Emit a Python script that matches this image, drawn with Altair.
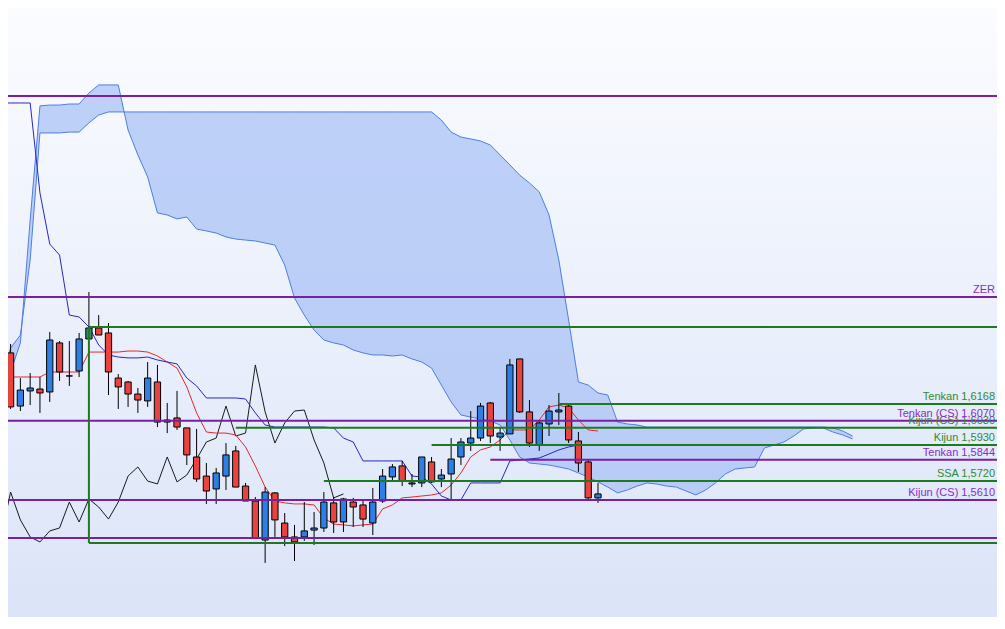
import altair as alt
import pandas as pd

# ---- candles (bar index 0..61) ----
opens = [1.6517, 1.6465, 1.6156, 1.6244, 1.6255, 1.6238, 1.6523, 1.6331, 1.6360, 1.6546,
         1.6610, 1.6581, 1.6319, 1.6296, 1.6226, 1.6186, 1.6296, 1.6075, 1.6087, 1.6029,
         1.5860, 1.5749, 1.5674, 1.5749, 1.5895, 1.5691, 1.5604, 1.5377, 1.5651, 1.5476,
         1.5395, 1.5395, 1.5435, 1.5447, 1.5593, 1.5482, 1.5598, 1.5581, 1.5476, 1.5604,
         1.5744, 1.5808, 1.5709, 1.5709, 1.5831, 1.5732, 1.5761, 1.5860, 1.5941, 1.5970,
         1.6174, 1.5976, 1.5994, 1.6430, 1.6122, 1.5930, 1.6052, 1.6122, 1.6156, 1.5953,
         1.5831, 1.5622]
highs = [1.6552, 1.6517, 1.6319, 1.6348, 1.6325, 1.6587, 1.6534, 1.6534, 1.6581, 1.6819,
         1.6685, 1.6639, 1.6342, 1.6302, 1.6261, 1.6412, 1.6395, 1.6174, 1.6244, 1.6029,
         1.6023, 1.5825, 1.5796, 1.5941, 1.5924, 1.5709, 1.5627, 1.5685, 1.5656, 1.5534,
         1.5465, 1.5598, 1.5540, 1.5656, 1.5627, 1.5622, 1.5622, 1.5610, 1.5680, 1.5790,
         1.5819, 1.5837, 1.5761, 1.5860, 1.5860, 1.5790, 1.5970, 1.5970, 1.6127, 1.6174,
         1.6180, 1.6029, 1.6430, 1.6430, 1.6191, 1.6075, 1.6162, 1.6232, 1.6168, 1.6005,
         1.5848, 1.5709]
lows = [1.6424, 1.6139, 1.6127, 1.6162, 1.6116, 1.6180, 1.6302, 1.6273, 1.6325, 1.6546,
        1.6569, 1.6220, 1.6139, 1.6151, 1.6116, 1.6151, 1.6034, 1.5999, 1.6017, 1.5813,
        1.5715, 1.5587, 1.5587, 1.5668, 1.5685, 1.5604, 1.5389, 1.5244, 1.5395, 1.5342,
        1.5255, 1.5372, 1.5348, 1.5424, 1.5418, 1.5424, 1.5453, 1.5453, 1.5406, 1.5593,
        1.5715, 1.5691, 1.5685, 1.5685, 1.5709, 1.5685, 1.5610, 1.5813, 1.5895, 1.5953,
        1.5941, 1.5895, 1.5994, 1.6116, 1.5918, 1.5895, 1.5982, 1.6046, 1.5941, 1.5773,
        1.5610, 1.5593]
closes = [1.6470, 1.6151, 1.6249, 1.6261, 1.6232, 1.6540, 1.6354, 1.6331, 1.6546, 1.6610,
          1.6569, 1.6354, 1.6267, 1.6226, 1.6191, 1.6319, 1.6063, 1.6063, 1.6034, 1.5872,
          1.5732, 1.5662, 1.5767, 1.5872, 1.5685, 1.5604, 1.5389, 1.5656, 1.5494, 1.5395,
          1.5366, 1.5430, 1.5447, 1.5598, 1.5482, 1.5616, 1.5569, 1.5499, 1.5598, 1.5749,
          1.5802, 1.5720, 1.5703, 1.5860, 1.5715, 1.5755, 1.5848, 1.5947, 1.5970, 1.6156,
          1.5982, 1.5999, 1.6395, 1.6122, 1.5941, 1.6058, 1.6127, 1.6133, 1.5959, 1.5825,
          1.5622, 1.5645]
highlight_bar = 9

# ---- Ichimoku lines ----
tenkan = [1.6325, 1.6325, 1.6325, 1.6325, 1.6325, 1.6354, 1.6354, 1.6354, 1.6354, 1.6470,
          1.6470, 1.6470, 1.6470, 1.6476, 1.6476, 1.6470, 1.6447, 1.6412, 1.6377, 1.6267,
          1.6116, 1.6005, 1.5999, 1.5999, 1.5988, 1.5918, 1.5808, 1.5685, 1.5604, 1.5593,
          1.5587, 1.5587, 1.5581, 1.5505, 1.5470, 1.5465, 1.5459, 1.5465, 1.5470, 1.5558,
          1.5581, 1.5622, 1.5627, 1.5633, 1.5639, 1.5651, 1.5697, 1.5767, 1.5860, 1.5901,
          1.5918, 1.5959, 1.6017, 1.6017, 1.6017, 1.6075, 1.6151, 1.6162, 1.6145, 1.6075,
          1.6017, 1.6011]
kijun = [1.7918, 1.7918, 1.7918, 1.7918, 1.7395, 1.7098, 1.7034, 1.6685, 1.6674, 1.6616,
         1.6511, 1.6453, 1.6441, 1.6436, 1.6436, 1.6441, 1.6424, 1.6412, 1.6401, 1.6319,
         1.6273, 1.6203, 1.6203, 1.6203, 1.6203, 1.6197, 1.6116, 1.6046, 1.6034, 1.6034,
         1.6034, 1.6034, 1.6034, 1.6034, 1.6029, 1.5970, 1.5947, 1.5837, 1.5837, 1.5837,
         1.5837, 1.5837, 1.5749, 1.5744, 1.5703, 1.5633, 1.5610, 1.5610, 1.5709, 1.5709,
         1.5709, 1.5709, 1.5837, 1.5842, 1.5848, 1.5854, 1.5877, 1.5901, 1.5918, 1.5930,
         1.5930, 1.5930]
chikou_shift = 26
# cloud, bar index 0..87 (26 bars ahead)
ssa = [1.6232, 1.6354, 1.6523, 1.7238, 1.7901, 1.7906, 1.7906, 1.7912, 1.7912, 1.7976,
       1.8023, 1.8023, 1.8023, 1.7761, 1.7616, 1.7488, 1.7279, 1.7267, 1.7244, 1.7255,
       1.7185, 1.7174, 1.7162, 1.7139, 1.7127, 1.7121, 1.7116, 1.7104, 1.7092, 1.6976,
       1.6784, 1.6685, 1.6598, 1.6540, 1.6523, 1.6511, 1.6482, 1.6465, 1.6453, 1.6453,
       1.6447, 1.6453, 1.6430, 1.6412, 1.6377, 1.6278, 1.6180, 1.6104, 1.6092, 1.6081,
       1.6069, 1.6046, 1.5959, 1.5860, 1.5825, 1.5819, 1.5813, 1.5802, 1.5790, 1.5767,
       1.5744, 1.5715, 1.5685, 1.5651, 1.5668, 1.5691, 1.5709, 1.5703, 1.5691, 1.5685,
       1.5662, 1.5639, 1.5668, 1.5709, 1.5761, 1.5790, 1.5796, 1.5802, 1.5912, 1.5930,
       1.5947, 1.5982, 1.6023, 1.6029, 1.6029, 1.6005, 1.5988, 1.5965]
ssb = [1.6308, 1.6494, 1.6569, 1.7005, 1.7744, 1.7744, 1.7744, 1.7749, 1.7749, 1.7802,
       1.7848, 1.7866, 1.7866, 1.7866, 1.7866, 1.7866, 1.7866, 1.7866, 1.7866, 1.7866,
       1.7866, 1.7866, 1.7866, 1.7866, 1.7866, 1.7866, 1.7866, 1.7866, 1.7866, 1.7866,
       1.7866, 1.7866, 1.7866, 1.7866, 1.7866, 1.7866, 1.7866, 1.7866, 1.7866, 1.7866,
       1.7866, 1.7866, 1.7866, 1.7866, 1.7866, 1.7819, 1.7749, 1.7720, 1.7709, 1.7697,
       1.7674, 1.7616, 1.7558, 1.7499, 1.7453, 1.7401, 1.7267, 1.7005, 1.6656, 1.6296,
       1.6278, 1.6232, 1.6220, 1.6063, 1.6052, 1.6046, 1.6034, 1.6034, 1.6034, 1.6034,
       1.6034, 1.6034, 1.6034, 1.6034, 1.6034, 1.6034, 1.6034, 1.6034, 1.6034, 1.6034,
       1.6034, 1.6034, 1.6034, 1.6034, 1.6034, 1.6029, 1.6011, 1.5982]

# ---- horizontal levels ----
level_price = [1.7959, 1.6790, 1.6070, 1.5844, 1.5610, 1.5389,
               1.6616, 1.6168, 1.6030, 1.5930, 1.5720, 1.5360]
level_start = [0, 0, 0, 50, 0, 0, 9, 57, 24, 44, 33, 9]
level_kind = ["purple"] * 6 + ["green"] * 6
box_bar = 9
box_top, box_bottom = 1.6616, 1.5360

label_text = ["ZER", "Tenkan 1,6168", "Kijun (CS) 1,6030", "Tenkan (CS) 1,6070",
              "Kijun 1,5930", "Tenkan 1,5844", "SSA 1,5720", "Kijun (CS) 1,5610"]
label_price = [1.6790, 1.6168, 1.6030, 1.6070, 1.5930, 1.5844, 1.5720, 1.5610]
label_kind = ["purple", "green", "green", "purple", "green", "purple", "green", "purple"]

# ---- styling ----
W, H = 989, 609
RED, BLUE, TEAL = "#e8433f", "#2d7fe3", "#2f8c7c"
LINE_COL = {"purple": "#7b1fa2", "green": "#1e7a1e"}
TEXT_COL = {"purple": "#8a2bc8", "green": "#2f8a2f"}

xs = alt.Scale(domain=[0.7354, 101.757], nice=False, zero=False)
ys = alt.Scale(domain=[1.49296, 1.84703], nice=False, zero=False)
X = lambda f: alt.X(f, scale=xs, axis=None)
Y = lambda f: alt.Y(f, scale=ys, axis=None)

n = len(opens)
bars = pd.DataFrame({"i": list(range(n)), "open": opens, "high": highs,
                     "low": lows, "close": closes})
def colour(r):
    if r.i == highlight_bar:
        return TEAL
    if r.close > r.open:
        return BLUE
    if r.close < r.open:
        return RED
    return "black"
bars["fill"] = bars.apply(colour, axis=1)

ind = pd.DataFrame({"i": list(range(n)), "tenkan": tenkan, "kijun": kijun})
chik = pd.DataFrame({"i": list(range(n - chikou_shift)), "v": closes[chikou_shift:]})
cloud = pd.DataFrame({"i": list(range(len(ssa))), "ssa": ssa, "ssb": ssb})
levels = pd.DataFrame({"p": level_price, "s": level_start,
                       "c": [LINE_COL[k] for k in level_kind]})
labels = pd.DataFrame({"t": label_text, "p": label_price,
                       "c": [TEXT_COL[k] for k in label_kind]})

grad = alt.LinearGradient(gradient="linear",
                          stops=[alt.GradientStop(offset=0, color="#fbfcff"),
                                 alt.GradientStop(offset=1, color="#dbe4f8")],
                          x1=0, x2=0, y1=0, y2=1)
bg = alt.Chart(pd.DataFrame({"a": [0]})).mark_rect(color=grad).encode(
    x=alt.value(0), x2=alt.value(W), y=alt.value(0), y2=alt.value(H))

area = alt.Chart(cloud).mark_area(color="#a8c1f5", opacity=0.72, clip=True).encode(
    x=X("i:Q"), y=Y("ssa:Q"), y2="ssb:Q")
ssa_l = alt.Chart(cloud).mark_line(color="#4d7ee0", strokeWidth=1, clip=True).encode(
    x=X("i:Q"), y=Y("ssa:Q"))
ssb_l = alt.Chart(cloud).mark_line(color="#4d7ee0", strokeWidth=1, clip=True).encode(
    x=X("i:Q"), y=Y("ssb:Q"))
chik_l = alt.Chart(chik).mark_line(color="#1a1a1a", strokeWidth=1, clip=True).encode(
    x=X("i:Q"), y=Y("v:Q"))
ten_l = alt.Chart(ind).mark_line(color="#e8262b", strokeWidth=1, clip=True).encode(
    x=X("i:Q"), y=Y("tenkan:Q"))
kij_l = alt.Chart(ind).mark_line(color="#2727c4", strokeWidth=1, clip=True).encode(
    x=X("i:Q"), y=Y("kijun:Q"))

wicks = alt.Chart(bars).mark_rule(color="black", strokeWidth=1, clip=True).encode(
    x=X("i:Q"), y=Y("low:Q"), y2="high:Q")
bodies = alt.Chart(bars).transform_calculate(
    x1="datum.i - 0.32", x2="datum.i + 0.32").mark_rect(
    stroke="black", strokeWidth=1, clip=True).encode(
    x=X("x1:Q"), x2="x2:Q", y=Y("open:Q"), y2="close:Q",
    fill=alt.Fill("fill:N", scale=None))

lv = alt.Chart(levels).mark_rule(strokeWidth=2, clip=True).encode(
    x=X("s:Q"), x2=alt.value(W), y=Y("p:Q"), color=alt.Color("c:N", scale=None))
vline = alt.Chart(pd.DataFrame({"i": [box_bar], "a": [box_top], "b": [box_bottom]})).mark_rule(
    strokeWidth=2, color=LINE_COL["green"], clip=True).encode(
    x=X("i:Q"), y=Y("a:Q"), y2="b:Q")

txt = alt.Chart(labels).mark_text(align="right", baseline="alphabetic", dy=-4,
                                  font="Liberation Sans", fontSize=11).encode(
    x=alt.value(W - 2), y=Y("p:Q"), text="t:N", color=alt.Color("c:N", scale=None))

chart = alt.layer(bg, area, ssa_l, ssb_l, chik_l, ten_l, kij_l, wicks, bodies,
                  lv, vline, txt).properties(
    width=W, height=H, padding=0, autosize=alt.AutoSizeParams(type="none")
).configure_view(strokeWidth=0)

chart.save("out.html", embed_options={"renderer": "svg", "actions": False})
